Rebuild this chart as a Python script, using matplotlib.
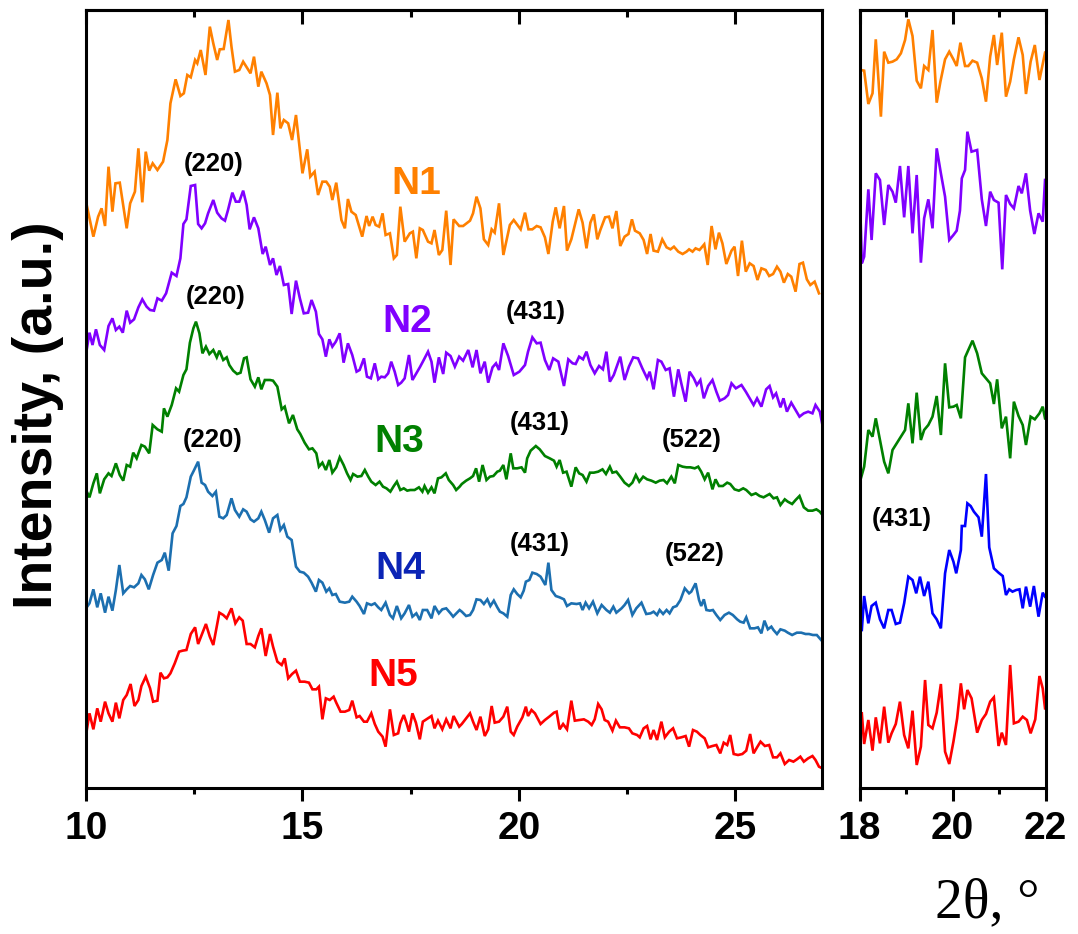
import matplotlib
matplotlib.use("Agg")
import matplotlib.pyplot as plt
from matplotlib.ticker import MultipleLocator

plt.rcParams['font.family'] = ['Liberation Sans', 'DejaVu Sans']

# ---- left panel, 2theta 10-27 (intensity in a.u., curves stacked) ----
n1_tt = [10.00, 10.17, 10.28, 10.36, 10.44, 10.52, 10.61, 10.68, 10.78, 10.94, 11.02, 11.13, 11.21, 11.30,
         11.38, 11.46, 11.54, 11.65, 11.78, 11.88, 11.95, 12.07, 12.18, 12.26, 12.34, 12.42, 12.52, 12.57,
         12.65, 12.76, 12.86, 12.94, 13.03, 13.09, 13.18, 13.29, 13.36, 13.44, 13.54, 13.63, 13.80, 13.88,
         13.98, 14.05, 14.17, 14.25, 14.32, 14.42, 14.49, 14.57, 14.67, 14.76, 14.85, 15.00, 15.11, 15.18,
         15.28, 15.36, 15.46, 15.55, 15.63, 15.69, 15.78, 15.90, 15.98, 16.05, 16.13, 16.23, 16.38, 16.48,
         16.54, 16.62, 16.69, 16.77, 16.85, 16.92, 17.02, 17.11, 17.18, 17.26, 17.36, 17.48, 17.55, 17.63,
         17.71, 17.78, 17.90, 17.98, 18.05, 18.15, 18.23, 18.32, 18.42, 18.49, 18.62,
         18.71, 18.87, 18.94, 19.02, 19.11, 19.19, 19.29, 19.37, 19.44, 19.54, 19.64, 19.79, 19.88, 20.04,
         20.14, 20.22, 20.31, 20.41, 20.50, 20.60, 20.68, 20.78, 20.85, 20.94, 21.04, 21.11, 21.21, 21.38,
         21.47, 21.56, 21.65, 21.73, 21.81, 21.88, 21.99, 22.08, 22.16, 22.25, 22.34, 22.44, 22.53, 22.61,
         22.68, 22.79, 22.88, 22.96, 23.04, 23.11, 23.21, 23.31, 23.41, 23.50, 23.58, 23.68, 23.78, 23.87,
         23.93, 24.01, 24.08, 24.17, 24.28, 24.36, 24.45, 24.54, 24.62, 24.70, 24.79, 24.91, 24.98, 25.06,
         25.15, 25.24, 25.33, 25.42, 25.51, 25.60, 25.70, 25.78, 25.87, 25.96, 26.04, 26.12, 26.21, 26.29,
         26.39, 26.48, 26.56, 26.65, 26.73, 26.83, 26.93]
n1_int = [1759, 1654, 1714, 1739, 1686, 1864, 1729, 1814, 1816, 1679, 1754, 1789, 1919, 1757,
          1909, 1852, 1874, 1854, 1879, 1944, 2054, 2126, 2076, 2084, 2139, 2132, 2184, 2174,
          2214, 2139, 2284, 2234, 2184, 2216, 2217, 2304, 2224, 2149, 2154, 2179, 2144, 2194,
          2104, 2149, 2114, 2079, 1959, 2086, 1979, 2004, 1994, 1944, 2019, 1844, 1916, 1834,
          1849, 1779, 1819, 1819, 1804, 1764, 1816, 1704, 1679, 1767, 1729, 1719, 1654, 1716,
          1686, 1714, 1689, 1684, 1724, 1659, 1664, 1589, 1599, 1744, 1639, 1664, 1669, 1589,
          1679, 1674, 1639, 1634, 1674, 1599, 1614, 1732, 1569, 1706, 1686,
          1686, 1702, 1724, 1774, 1739, 1646, 1629, 1676, 1666, 1754, 1599, 1689, 1704, 1676,
          1726, 1676, 1676, 1686, 1682, 1652, 1602, 1699, 1742, 1679, 1746, 1612, 1646, 1736,
          1696, 1619, 1696, 1721, 1646, 1674, 1712, 1714, 1679, 1731, 1626, 1654, 1662, 1706,
          1672, 1664, 1644, 1602, 1662, 1612, 1609, 1646, 1622, 1616, 1624, 1609, 1602, 1609,
          1616, 1609, 1619, 1614, 1631, 1569, 1686, 1616, 1666, 1634, 1572, 1612, 1624, 1536,
          1642, 1549, 1574, 1566, 1524, 1559, 1554, 1536, 1542, 1564, 1549, 1516, 1542, 1534,
          1489, 1572, 1576, 1526, 1509, 1519, 1484]

n2_tt = [10.00, 10.08, 10.15, 10.23, 10.32, 10.42, 10.52, 10.61, 10.69, 10.77, 10.85, 10.94, 11.02, 11.11,
         11.21, 11.30, 11.40, 11.48, 11.57, 11.65, 11.75, 11.85, 11.98, 12.09, 12.18, 12.25, 12.32, 12.42,
         12.52, 12.59, 12.67, 12.75, 12.82, 12.94, 13.03, 13.13, 13.21, 13.28, 13.38, 13.46, 13.54, 13.63,
         13.71, 13.78, 13.88, 13.98, 14.08, 14.15, 14.25, 14.32, 14.40, 14.48, 14.57, 14.67, 14.75, 14.85,
         14.94, 15.03, 15.13, 15.21, 15.31, 15.38, 15.46, 15.54, 15.62, 15.69, 15.77, 15.86, 15.95, 16.05,
         16.15, 16.25, 16.32, 16.42, 16.49, 16.58, 16.67, 16.75, 16.82, 16.90, 16.98, 17.05, 17.13, 17.21,
         17.28, 17.36, 17.46, 17.54, 17.62, 17.71, 17.78, 17.90, 17.98, 18.05, 18.15, 18.25, 18.32, 18.42,
         18.52, 18.62,
         18.71, 18.83, 18.93, 19.02, 19.11, 19.21, 19.29, 19.39, 19.47, 19.54, 19.64, 19.75, 19.88, 20.01,
         20.14, 20.21, 20.31, 20.41, 20.50, 20.60, 20.70, 20.79, 20.91, 21.04, 21.14, 21.24, 21.31, 21.39,
         21.48, 21.56, 21.65, 21.75, 21.85, 21.94, 22.02, 22.10, 22.19, 22.34, 22.44, 22.54, 22.64, 22.75,
         22.85, 22.96, 23.02, 23.11, 23.21, 23.29, 23.39, 23.48, 23.58, 23.68, 23.75, 23.85, 23.94, 24.04,
         24.11, 24.19, 24.27, 24.37, 24.47, 24.56, 24.64, 24.75, 24.83, 24.91, 25.01, 25.14, 25.24, 25.33,
         25.42, 25.50, 25.60, 25.71, 25.79, 25.87, 25.94, 26.04, 26.11, 26.19, 26.29, 26.39, 26.48, 26.58,
         26.68, 26.78, 26.85, 26.95, 27.01]
n2_int = [1302, 1366, 1329, 1376, 1329, 1314, 1386, 1409, 1374, 1384, 1366, 1432, 1396, 1406,
          1442, 1466, 1444, 1434, 1432, 1469, 1462, 1484, 1546, 1536, 1589, 1692, 1706, 1806,
          1809, 1692, 1679, 1694, 1724, 1764, 1726, 1709, 1702, 1734, 1786, 1759, 1759, 1792,
          1749, 1676, 1712, 1679, 1602, 1624, 1569, 1589, 1539, 1566, 1509, 1512, 1422, 1522,
          1469, 1424, 1426, 1464, 1429, 1362, 1346, 1294, 1346, 1324, 1339, 1364, 1276, 1334,
          1299, 1249, 1254, 1289, 1234, 1229, 1274, 1226, 1234, 1232, 1244, 1279, 1249, 1209,
          1216, 1229, 1299, 1224, 1242, 1262, 1279, 1309, 1279, 1216, 1292, 1242, 1306, 1296,
          1264, 1294,
          1282, 1314, 1262, 1314, 1244, 1279, 1216, 1262, 1274, 1254, 1334, 1296, 1239, 1249,
          1269, 1309, 1352, 1334, 1336, 1284, 1254, 1289, 1279, 1206, 1286, 1274, 1272, 1294,
          1286, 1309, 1269, 1244, 1266, 1256, 1309, 1219, 1239, 1294, 1224, 1264, 1292, 1289,
          1259, 1229, 1249, 1196, 1284, 1279, 1254, 1259, 1174, 1256, 1214, 1159, 1249, 1229,
          1209, 1224, 1169, 1206, 1224, 1189, 1162, 1169, 1179, 1214, 1199, 1209, 1189, 1169,
          1149, 1169, 1144, 1196, 1206, 1172, 1184, 1142, 1169, 1129, 1156, 1134, 1114, 1124,
          1129, 1124, 1149, 1129, 1089]

n3_tt = [10.00, 10.08, 10.17, 10.25, 10.32, 10.42, 10.52, 10.59, 10.69, 10.78, 10.86, 10.94, 11.02, 11.09,
         11.17, 11.28, 11.36, 11.46, 11.54, 11.65, 11.75, 11.80, 11.88, 11.98, 12.08, 12.15, 12.25, 12.32,
         12.40, 12.48, 12.54, 12.62, 12.69, 12.77, 12.85, 12.94, 13.02, 13.08, 13.17, 13.25, 13.31, 13.40,
         13.49, 13.57, 13.65, 13.71, 13.80, 13.90, 13.98, 14.05, 14.13, 14.25, 14.32, 14.42, 14.52, 14.59,
         14.69, 14.78, 14.88, 14.95, 15.05, 15.15, 15.23, 15.32, 15.38, 15.46, 15.54, 15.62, 15.69, 15.78,
         15.86, 15.95, 16.03, 16.11, 16.17, 16.27, 16.36, 16.44, 16.52, 16.59, 16.69, 16.78, 16.86, 16.94,
         17.03, 17.11, 17.18, 17.26, 17.34, 17.42, 17.49, 17.59, 17.69, 17.77, 17.82, 17.90, 17.98, 18.05,
         18.13, 18.21, 18.31, 18.38, 18.48, 18.55, 18.63,
         18.68, 18.78, 18.87, 18.94, 19.01, 19.08, 19.16, 19.25, 19.33, 19.41, 19.50, 19.56, 19.64, 19.71,
         19.81, 19.87, 19.96, 20.06, 20.14, 20.19, 20.27, 20.39, 20.48, 20.60, 20.71, 20.81, 20.87, 20.94,
         21.02, 21.10, 21.21, 21.31, 21.39, 21.47, 21.56, 21.64, 21.73, 21.83, 21.93, 22.01, 22.10, 22.16,
         22.25, 22.34, 22.44, 22.54, 22.62, 22.70, 22.78, 22.87, 22.96, 23.06, 23.16, 23.25, 23.34, 23.42,
         23.52, 23.60, 23.68, 23.78, 23.87, 23.96, 24.06, 24.14, 24.21, 24.29, 24.37, 24.47, 24.54, 24.62,
         24.71, 24.81, 24.88, 24.98, 25.08, 25.18, 25.25, 25.37, 25.47, 25.56, 25.65, 25.79, 25.88, 25.96,
         26.04, 26.14, 26.21, 26.31, 26.39, 26.48, 26.58, 26.68, 26.78, 26.87, 26.95, 27.01]
n3_int = [894, 872, 914, 944, 884, 926, 944, 936, 974, 939, 922, 969, 964, 1006,
          989, 1029, 1024, 1004, 1089, 1076, 1069, 1139, 1114, 1149, 1199, 1189, 1239, 1256,
          1336, 1379, 1399, 1364, 1304, 1324, 1302, 1314, 1292, 1312, 1284, 1292, 1269, 1252,
          1242, 1246, 1289, 1292, 1226, 1204, 1232, 1196, 1224, 1224, 1222, 1204, 1136, 1144,
          1094, 1119, 1076, 1062, 1036, 1016, 1019, 1004, 964, 976, 954, 984, 946, 962,
          992, 969, 944, 924, 942, 934, 936, 954, 934, 919, 909, 919, 904, 899,
          889, 906, 919, 894, 899, 892, 894, 894, 902, 889, 906, 886, 902, 884,
          929, 932, 944, 924, 909, 894, 904,
          912, 922, 929, 936, 959, 919, 969, 924, 934, 936, 949, 952, 969, 926,
          1004, 959, 959, 962, 946, 989, 1012, 1026, 1016, 996, 989, 982, 964, 984,
          946, 949, 904, 962, 944, 939, 919, 946, 946, 949, 956, 942, 964, 946,
          949, 934, 916, 906, 916, 939, 919, 934, 926, 922, 916, 922, 924, 914,
          934, 914, 969, 964, 962, 962, 959, 964, 949, 926, 946, 896, 926, 906,
          906, 916, 912, 896, 892, 899, 894, 879, 884, 876, 872, 882, 869, 872,
          849, 866, 859, 852, 864, 876, 842, 832, 832, 836, 829, 819]

n4_tt = [10.00, 10.08, 10.17, 10.26, 10.34, 10.44, 10.52, 10.61, 10.69, 10.77, 10.86, 10.94, 11.02, 11.11,
         11.21, 11.28, 11.36, 11.45, 11.55, 11.65, 11.75, 11.82, 11.91, 12.00, 12.09, 12.18, 12.25, 12.32,
         12.42, 12.49, 12.59, 12.67, 12.75, 12.82, 12.92, 13.00, 13.08, 13.17, 13.25, 13.36, 13.44, 13.54,
         13.63, 13.71, 13.80, 13.88, 13.98, 14.05, 14.13, 14.23, 14.32, 14.42, 14.49, 14.57, 14.65, 14.75,
         14.85, 14.94, 15.03, 15.13, 15.21, 15.31, 15.38, 15.46, 15.55, 15.62, 15.69, 15.77, 15.86, 15.98,
         16.08, 16.15, 16.25, 16.32, 16.42, 16.49, 16.59, 16.67, 16.75, 16.82, 16.92, 17.02, 17.09, 17.18,
         17.28, 17.36, 17.46, 17.54, 17.63, 17.71, 17.78, 17.88, 17.98, 18.05, 18.15, 18.23, 18.32, 18.42,
         18.48, 18.63,
         18.68, 18.78, 18.87, 18.94, 19.02, 19.11, 19.19, 19.27, 19.34, 19.42, 19.50, 19.56, 19.64, 19.73,
         19.81, 19.88, 19.96, 20.04, 20.11, 20.16, 20.24, 20.31, 20.41, 20.50, 20.61, 20.68, 20.75, 20.85,
         20.94, 21.04, 21.11, 21.21, 21.33, 21.41, 21.47, 21.54, 21.62, 21.71, 21.81, 21.91, 22.02, 22.10,
         22.18, 22.25, 22.37, 22.44, 22.52, 22.62, 22.71, 22.83, 22.94, 23.04, 23.11, 23.19, 23.25, 23.33,
         23.41, 23.48, 23.56, 23.64, 23.73, 23.83, 23.93, 23.98, 24.08, 24.16, 24.21, 24.27, 24.33, 24.41,
         24.48, 24.56, 24.65, 24.75, 24.85, 24.94, 25.04, 25.11, 25.19, 25.25, 25.34, 25.44, 25.52, 25.60,
         25.67, 25.75, 25.83, 25.88, 25.96, 26.04, 26.14, 26.21, 26.31, 26.42, 26.52, 26.62, 26.70, 26.79,
         26.88, 26.98]
n4_int = [539, 554, 596, 542, 584, 526, 574, 532, 594, 669, 584, 596, 606, 602,
          614, 639, 626, 596, 639, 676, 684, 706, 652, 764, 786, 846, 852, 872,
          934, 952, 979, 916, 909, 889, 876, 889, 814, 809, 819, 869, 834, 814,
          836, 829, 806, 799, 809, 829, 804, 766, 809, 819, 774, 789, 754, 744,
          664, 649, 646, 634, 616, 589, 624, 616, 589, 599, 579, 582, 559, 556,
          559, 574, 559, 546, 522, 554, 549, 554, 542, 534, 556, 519, 509, 546,
          509, 524, 549, 514, 524, 504, 534, 534, 509, 546, 524, 536, 539, 524,
          514, 534,
          529, 516, 519, 534, 566, 564, 552, 566, 546, 562, 542, 529, 524, 514,
          579, 596, 582, 572, 592, 619, 624, 646, 642, 634, 609, 676, 594, 576,
          572, 566, 546, 554, 552, 554, 534, 556, 539, 559, 524, 549, 534, 526,
          544, 526, 539, 549, 564, 519, 539, 556, 522, 524, 529, 519, 534, 522,
          534, 524, 542, 546, 564, 599, 584, 589, 614, 564, 546, 566, 534, 532,
          534, 519, 504, 519, 526, 519, 506, 499, 496, 512, 479, 479, 482, 464,
          502, 476, 484, 474, 462, 476, 472, 466, 459, 466, 466, 462, 462, 459,
          459, 444]

n5_tt = [10.00, 10.08, 10.17, 10.26, 10.34, 10.44, 10.52, 10.61, 10.69, 10.77, 10.86, 10.94, 11.03, 11.12,
         11.21, 11.28, 11.38, 11.48, 11.55, 11.65, 11.72, 11.80, 11.88, 11.95, 12.05, 12.15, 12.23, 12.32,
         12.42, 12.52, 12.59, 12.67, 12.77, 12.86, 12.94, 13.03, 13.08, 13.17, 13.25, 13.36, 13.45, 13.54,
         13.62, 13.71, 13.80, 13.90, 13.98, 14.05, 14.15, 14.25, 14.32, 14.42, 14.52, 14.59, 14.67, 14.76,
         14.85, 14.94, 15.05, 15.15, 15.23, 15.32, 15.38, 15.46, 15.54, 15.63, 15.72, 15.78, 15.88, 15.98,
         16.08, 16.15, 16.25, 16.32, 16.42, 16.49, 16.59, 16.67, 16.75, 16.85, 16.92, 17.02, 17.11, 17.21,
         17.26, 17.34, 17.40, 17.46, 17.54, 17.62, 17.71, 17.78, 17.90, 17.98, 18.05, 18.13, 18.23, 18.32,
         18.42, 18.49, 18.62,
         18.68, 18.78, 18.87, 18.94, 19.02, 19.11, 19.21, 19.29, 19.37, 19.44, 19.54, 19.64, 19.73, 19.81,
         19.88, 19.96, 20.08, 20.16, 20.21, 20.29, 20.37, 20.50, 20.60, 20.70, 20.81, 20.87, 20.94, 21.02,
         21.11, 21.21, 21.29, 21.39, 21.50, 21.60, 21.68, 21.75, 21.83, 21.91, 21.98, 22.06, 22.16, 22.24,
         22.33, 22.44, 22.54, 22.62, 22.73, 22.79, 22.88, 22.96, 23.04, 23.11, 23.19, 23.29, 23.37, 23.47,
         23.56, 23.65, 23.75, 23.85, 23.93, 24.02, 24.11, 24.19, 24.29, 24.37, 24.47, 24.56, 24.65, 24.73,
         24.81, 24.88, 24.96, 25.06, 25.16, 25.25, 25.34, 25.42, 25.50, 25.58, 25.68, 25.78, 25.87, 25.96,
         26.04, 26.14, 26.24, 26.34, 26.42, 26.50, 26.58, 26.68, 26.78, 26.85, 26.93, 27.01]
n5_int = [159, 224, 176, 239, 199, 259, 224, 199, 256, 209, 264, 279, 312, 246,
          264, 306, 334, 299, 259, 262, 346, 329, 332, 344, 374, 409, 412, 414,
          462, 482, 432, 459, 492, 454, 429, 492, 526, 519, 509, 539, 494, 512,
          502, 432, 432, 422, 456, 479, 396, 462, 424, 379, 369, 389, 329, 342,
          352, 319, 319, 316, 296, 296, 304, 206, 269, 264, 274, 256, 229, 229,
          234, 262, 212, 216, 199, 199, 224, 192, 169, 154, 124, 236, 159, 164,
          194, 219, 196, 169, 224, 196, 146, 199, 209, 216, 179, 202, 176, 206,
          179, 216, 184,
          192, 209, 224, 199, 174, 214, 156, 176, 246, 196, 199, 214, 244, 169,
          159, 184, 212, 244, 216, 234, 224, 192, 204, 214, 226, 229, 176, 192,
          176, 262, 202, 204, 206, 199, 189, 206, 252, 236, 204, 199, 172, 202,
          182, 182, 179, 164, 159, 152, 179, 186, 146, 174, 144, 199, 152, 169,
          179, 149, 152, 156, 124, 174, 169, 159, 149, 122, 126, 129, 104, 136,
          129, 159, 102, 99, 102, 112, 162, 104, 122, 139, 126, 129, 92, 92,
          104, 72, 84, 79, 86, 94, 79, 89, 96, 84, 64, 59]

# ---- right panel, 2theta 18-22 ----
r1_tt = [18.03, 18.10, 18.19, 18.28, 18.35, 18.46, 18.53, 18.62, 18.71, 18.80, 18.89, 18.98, 19.05, 19.14,
         19.23, 19.32, 19.39, 19.48, 19.57, 19.66, 19.74, 19.84, 19.93, 20.02, 20.09, 20.17, 20.27, 20.34,
         20.43, 20.53, 20.63, 20.72, 20.81, 20.89, 20.96, 21.06, 21.15, 21.24, 21.32, 21.42, 21.51, 21.58,
         21.68, 21.77, 21.87, 21.99]
r1_int = [2154, 2152, 2052, 2084, 2246, 2014, 2209, 2176, 2179, 2186, 2204, 2244, 2306, 2256,
          2122, 2099, 2166, 2154, 2274, 2056, 2119, 2186, 2209, 2186, 2166, 2236, 2166, 2166,
          2182, 2176, 2129, 2059, 2194, 2259, 2169, 2266, 2074, 2119, 2186, 2252, 2199, 2082,
          2179, 2229, 2124, 2206]

r2_tt = [18.01, 18.05, 18.10, 18.19, 18.26, 18.35, 18.44, 18.53, 18.62, 18.71, 18.78, 18.87, 18.96, 19.05,
         19.14, 19.23, 19.32, 19.39, 19.48, 19.57, 19.66, 19.75, 19.84, 19.93, 20.02, 20.09, 20.16, 20.20,
         20.27, 20.32, 20.41, 20.53, 20.63, 20.72, 20.81, 20.89, 20.99, 21.07, 21.15, 21.24, 21.32, 21.42,
         21.49, 21.58, 21.67, 21.76, 21.85, 21.94, 21.99]
r2_int = [1774, 1574, 1594, 1796, 1644, 1844, 1824, 1689, 1809, 1789, 1756, 1866, 1712, 1866,
          1664, 1839, 1576, 1709, 1766, 1679, 1919, 1844, 1774, 1644, 1659, 1672, 1732, 1829,
          1854, 1969, 1909, 1914, 1766, 1686, 1789, 1764, 1756, 1556, 1779, 1752, 1739, 1806,
          1784, 1844, 1732, 1662, 1724, 1699, 1824]

r3_tt = [18.01, 18.10, 18.19, 18.28, 18.35, 18.44, 18.53, 18.62, 18.71, 18.80, 18.89, 18.98, 19.05, 19.14,
         19.23, 19.32, 19.39, 19.48, 19.57, 19.66, 19.75, 19.84, 19.93, 20.02, 20.09, 20.18, 20.27, 20.34,
         20.43, 20.53, 20.63, 20.72, 20.81, 20.89, 20.96, 21.06, 21.15, 21.24, 21.32, 21.42, 21.51, 21.58,
         21.68, 21.77, 21.87, 21.94, 21.99]
r3_int = [919, 964, 1074, 1054, 1109, 1044, 979, 944, 1014, 1034, 1054, 1074, 1154, 1034,
          1186, 1044, 1074, 1089, 1114, 1176, 1059, 1274, 1142, 1144, 1149, 1109, 1292, 1314,
          1342, 1304, 1244, 1229, 1214, 1152, 1226, 1079, 1114, 989, 1159, 1116, 1089, 1029,
          1114, 1106, 1124, 1144, 1109]

r4_tt = [18.05, 18.10, 18.19, 18.26, 18.35, 18.44, 18.53, 18.62, 18.69, 18.78, 18.87, 18.96, 19.05, 19.14,
         19.22, 19.30, 19.39, 19.48, 19.57, 19.66, 19.75, 19.84, 19.93, 20.02, 20.08, 20.18, 20.20, 20.27,
         20.32, 20.39, 20.46, 20.56, 20.63, 20.72, 20.79, 20.89, 20.99, 21.08, 21.15, 21.22, 21.29, 21.37,
         21.44, 21.51, 21.58, 21.67, 21.75, 21.85, 21.94, 21.99]
r4_int = [474, 576, 494, 546, 556, 506, 479, 534, 534, 492, 496, 554, 634, 624,
          584, 634, 576, 619, 524, 506, 479, 644, 714, 679, 644, 714, 786, 786,
          854, 846, 829, 812, 754, 942, 722, 659, 646, 636, 579, 596, 589, 594,
          596, 539, 604, 544, 606, 514, 586, 574]

r5_tt = [18.05, 18.10, 18.19, 18.28, 18.35, 18.44, 18.53, 18.62, 18.69, 18.78, 18.87, 18.96, 19.05, 19.14,
         19.23, 19.32, 19.41, 19.48, 19.57, 19.66, 19.75, 19.84, 19.93, 20.02, 20.10, 20.18, 20.25, 20.32,
         20.41, 20.53, 20.63, 20.72, 20.81, 20.89, 20.99, 21.06, 21.15, 21.24, 21.32, 21.42, 21.51, 21.60,
         21.68, 21.78, 21.87, 21.94, 21.99]
r5_int = [224, 132, 204, 112, 212, 134, 244, 136, 164, 192, 259, 159, 119, 232,
          69, 124, 324, 189, 179, 226, 312, 109, 72, 139, 209, 314, 236, 294,
          269, 166, 204, 222, 259, 272, 126, 166, 129, 369, 194, 199, 214, 204,
          164, 206, 336, 299, 239]

colors = ['#ff8000', '#8000ff', '#008000', '#1c6fb0', '#ff0000']
right_colors = ['#ff8000', '#8000ff', '#008000', '#0000ff', '#ff0000']
names = ['N1', 'N2', 'N3', 'N4', 'N5']
name_colors = ['#ff8000', '#8000ff', '#008000', '#0b24b5', '#ff0000']
name_tt = [17.62, 17.41, 17.23, 17.25, 17.09]
name_int = [1812, 1398, 1038, 657, 336]

peak_labels = ['(220)', '(220)', '(220)', '(431)', '(431)', '(522)', '(431)', '(522)']
peak_tt = [12.95, 13.00, 12.92, 20.39, 20.49, 24.00, 20.49, 24.06]
peak_int = [1873, 1473, 1044, 1428, 1095, 1044, 732, 703]

left_series = [(n1_tt, n1_int), (n2_tt, n2_int), (n3_tt, n3_int), (n4_tt, n4_int), (n5_tt, n5_int)]
right_series = [(r1_tt, r1_int), (r2_tt, r2_int), (r3_tt, r3_int), (r4_tt, r4_int), (r5_tt, r5_int)]

fig = plt.figure(figsize=(10.78, 9.34), dpi=100)
ax = fig.add_axes([86 / 1078, 146 / 934, 736 / 1078, 778 / 934])
ax2 = fig.add_axes([859.5 / 1078, 146 / 934, 186 / 1078, 778 / 934])

lw = 1.9
for (tt, inten), c in zip(left_series, colors):
    ax.plot(tt, inten, color=c, lw=lw, solid_joinstyle='miter')
for (tt, inten), c in zip(right_series, right_colors):
    ax2.plot(tt, inten, color=c, lw=lw, solid_joinstyle='miter')

for name, c, x, y in zip(names, name_colors, name_tt, name_int):
    ax.text(x, y, name, color=c, fontsize=28, fontweight='bold', ha='center', va='center')
for lab, x, y in zip(peak_labels, peak_tt, peak_int):
    ax.text(x, y, lab, fontsize=18.5, fontweight='bold', ha='center', va='center')
ax2.text(18.91, 807, '(431)', fontsize=18.5, fontweight='bold', ha='center', va='center')

for a, lo, hi, major, minor in [(ax, 10, 27, 5, 2.5), (ax2, 18, 22, 2, 1)]:
    a.set_xlim(lo, hi)
    a.set_ylim(0, 2334)
    a.set_yticks([])
    a.xaxis.set_major_locator(MultipleLocator(major))
    a.xaxis.set_minor_locator(MultipleLocator(minor))
    a.tick_params(axis='x', which='both', direction='out', top=False, width=2.2, pad=7,
                  labelsize=28)
    a.tick_params(axis='x', which='major', length=9.5)
    a.tick_params(axis='x', which='minor', length=4.5)
    for lbl in a.get_xticklabels():
        lbl.set_fontweight('bold')
    for s in a.spines.values():
        s.set_linewidth(2.2)
    # inward ticks along the top edge
    sec = a.secondary_xaxis('top')
    sec.xaxis.set_major_locator(MultipleLocator(major))
    sec.xaxis.set_minor_locator(MultipleLocator(minor))
    sec.tick_params(which='both', direction='in', width=2.2, labeltop=False)
    sec.tick_params(which='major', length=10)
    sec.tick_params(which='minor', length=5)
    sec.spines['top'].set_linewidth(2.2)

fig.text(38 / 1078, 1 - 415 / 934, 'Intensity, (a.u.)', rotation=90, fontsize=40,
         fontweight='bold', ha='center', va='center')
fig.text(987 / 1078, 1 - 903 / 934, '2θ, °', fontsize=40, family=['Liberation Serif', 'DejaVu Serif'],
         ha='center', va='center')

fig.savefig('out.png', dpi=100)
